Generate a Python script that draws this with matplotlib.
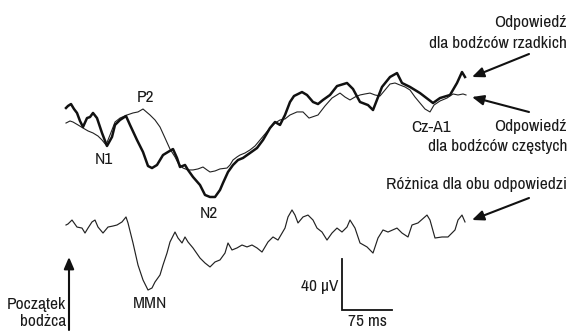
import matplotlib
matplotlib.use("Agg")
import matplotlib.pyplot as plt
import numpy as np

# ---- data: time (ms) and amplitude (µV) ----
t_rare = [-4.5, -1.5, 3, 7.5, 12, 16.5, 21, 27, 31.5, 36, 42, 49.5, 57, 64.5, 69, 76.5, 85.5, 91.5,
          102, 111, 118.5, 124.5, 132, 141, 148.5, 156, 162, 166.5, 174, 178.5, 186, 196.5, 204,
          211.5, 219, 226.5, 231, 238.5, 246, 253.5, 261, 271.5, 282, 291, 301.5, 309, 316.5, 324,
          331.5, 337.5, 349.5, 357, 366, 373.5, 381, 391.5, 402, 417, 426, 436.5, 448.5, 456,
          469.5, 481.5, 492, 499.5, 511.5, 526.5, 546, 556.5, 571.5, 582, 589.5, 594]
v_rare = [5.5, 7.1, 8.6, 4.7, 1.6, -4.7, -9.4, -2.4, -1.6, 1.6, -2.4, -14.1, -24.3, -17.2, -7.8,
          -3.9, -0.8, -7.8, -19.6, -29.0, -40.0, -41.6, -39.2, -31.4, -29.0, -26.7, -33.7, -40.8,
          -39.2, -43.1, -48.6, -54.9, -62.7, -64.3, -64.3, -58.8, -53.3, -44.7, -39.2, -35.3,
          -33.7, -29.8, -25.9, -19.6, -10.2, -5.5, -7.8, 0.0, 10.2, 14.9, 18.0, 15.7, 10.2, 8.6,
          11.8, 15.7, 22.7, 25.1, 20.4, 10.2, 7.8, 3.9, 22.0, 29.8, 32.9, 25.1, 22.0, 17.2, 9.4,
          13.3, 15.7, 25.1, 33.7, 29.8]

t_freq = [-4.5, 1.5, 6, 13.5, 21, 28.5, 36, 43.5, 49.5, 55.5, 61.5, 69, 76.5, 87, 96, 103.5, 111,
          121.5, 129, 136.5, 144, 151.5, 159, 163.5, 171, 178.5, 186, 193.5, 201, 207, 211.5, 219,
          226.5, 237, 241.5, 246, 252, 256.5, 264, 271.5, 279, 286.5, 294, 301.5, 309, 316.5, 324,
          331.5, 342, 351, 360, 373.5, 384, 394.5, 406.5, 414, 421.5, 429, 436.5, 444, 451.5, 459,
          466.5, 474, 481.5, 489, 496.5, 504, 511.5, 519, 526.5, 534, 541.5, 547.5, 556.5, 567,
          576, 583.5, 591, 595.5]
v_freq = [-6.3, -4.7, -5.5, -7.8, -10.2, -12.5, -14.1, -16.5, -19.6, -23.5, -15.7, -5.5, -2.4, 0.0,
          1.6, 2.4, 4.7, 0.0, -3.9, -9.4, -18.0, -26.7, -32.9, -37.6, -41.6, -43.1, -43.1, -42.3,
          -40.8, -43.1, -44.7, -43.9, -42.3, -41.6, -39.2, -35.3, -32.9, -31.4, -29.8, -27.4,
          -24.3, -19.6, -14.9, -10.2, -6.3, -3.9, -3.1, 0.0, 2.4, 2.4, -2.4, 0.0, 7.1, 13.3, 17.2,
          14.1, 11.8, 14.1, 15.7, 16.5, 17.2, 15.7, 14.9, 19.6, 24.3, 25.1, 23.5, 22.0, 19.6, 14.1,
          9.4, 4.7, 2.4, 7.8, 11.0, 13.3, 16.5, 15.7, 16.5, 15.7]

t_diff = [-4.5, -1.5, 4.5, 12, 19.5, 24, 28.5, 34.5, 39, 43.5, 51, 58.5, 66, 72, 79.5, 85.5, 88.5,
          96, 103.5, 111, 118.5, 124.5, 129, 136.5, 141, 147, 151.5, 159, 163.5, 169.5, 174, 178.5,
          186, 196.5, 204, 211.5, 219, 226.5, 234, 238.5, 244.5, 252, 259.5, 267, 274.5, 282,
          289.5, 298.5, 306, 313.5, 324, 328.5, 334.5, 339, 343.5, 351, 358.5, 366, 372, 379.5,
          387, 394.5, 402, 409.5, 417, 421.5, 429, 436.5, 447, 456, 463.5, 471, 478.5, 492, 499.5,
          508.5, 514.5, 523.5, 537, 541.5, 549, 559.5, 568.5, 579, 583.5, 589.5, 594]
v_diff = [0.0, 0.8, 3.9, -1.6, -2.4, -6.3, -2.4, 2.4, 3.9, -1.6, -6.3, -1.6, -0.8, 0.0, 2.4, 6.3,
          1.6, -14.1, -31.4, -43.1, -51.0, -49.4, -44.7, -39.2, -31.4, -22.0, -13.3, -5.5, -10.2,
          -14.1, -9.4, -13.3, -18.0, -25.9, -29.8, -32.9, -29.0, -27.4, -22.0, -14.1, -19.6, -18.0,
          -15.7, -17.2, -15.7, -18.0, -21.2, -13.3, -9.4, -11.8, -2.4, 6.3, 11.8, 7.8, 1.6, 6.3,
          7.8, 3.9, -2.4, -5.5, -11.8, -6.3, -2.4, -5.5, -1.6, 3.9, -2.4, -14.1, -17.2, -22.0,
          -10.2, -3.9, -5.5, -2.4, -6.3, -9.4, 0.0, 1.6, 7.8, 3.9, -10.2, -9.4, -9.4, -3.9, 3.9,
          7.8, 2.4]

scale_ms = 75
scale_uv = 40

# ---- layout ----
W, H = 573, 331
X0 = 69            # onset pixel
PX_PER_MS = 50 / 75
PX_PER_UV = 51 / 40
Y_DIFF_BASE = 225  # pixel row of difference baseline
Y_UP_BASE = 115    # pixel row of upper baseline
upper_offset = (Y_DIFF_BASE - Y_UP_BASE) / PX_PER_UV


def px(x, y):
    """pixel position -> data coords"""
    return (x - X0) / PX_PER_MS, (Y_DIFF_BASE - y) / PX_PER_UV


fig = plt.figure(figsize=(W / 100, H / 100), dpi=100)
ax = fig.add_axes([0, 0, 1, 1])
x_lo, y_lo = px(0, H)
x_hi, y_hi = px(W, 0)
ax.set_xlim(x_lo, x_hi)
ax.set_ylim(y_lo, y_hi)
ax.axis("off")

ax.plot(t_freq, np.array(v_freq) + upper_offset, color="#222222", lw=0.8)
ax.plot(t_rare, np.array(v_rare) + upper_offset, color="#111111", lw=1.8)
ax.plot(t_diff, v_diff, color="#222222", lw=0.85)

FONT = ["Archivo Narrow", "Barlow Semi Condensed", "Liberation Sans Narrow", "DejaVu Sans"]
FS = 12.5
txt = dict(family=FONT, fontsize=FS, color="#1a1a1a")

def label(x, y, s, ha="center", va="center"):
    ax.text(*px(x, y), s, ha=ha, va=va, **txt)

label(145, 97, "P2")
label(104, 160, "N1")
label(209, 213, "N2")
label(150, 303, "MMN")
label(431, 127, "Cz-A1")
label(567, 22, "Odpowiedź", ha="right")
label(567, 43, "dla bodźców rzadkich", ha="right")
label(567, 127, "Odpowiedź", ha="right")
label(567, 147, "dla bodźców częstych", ha="right")
label(567, 185, "Różnica dla obu odpowiedzi", ha="right")
label(66, 304, "Początek", ha="right")
label(66, 322, "bodżca", ha="right")
label(338, 287, "40 µV", ha="right")
label(367, 322, "75 ms")

arrow = dict(arrowstyle="-|>,head_length=0.7,head_width=0.3", color="#111111", lw=1.5,
             shrinkA=0, shrinkB=0)
for (x1, y1), (x2, y2) in [((529, 54), (472, 77)), ((529, 112), (472, 97)),
                           ((529, 198), (472, 220)), ((69, 330), (69, 257))]:
    ax.annotate("", xy=px(x2, y2), xytext=px(x1, y1), arrowprops=arrow)

# scale bar
sx, sy = px(342, 310)
ax.plot([sx, sx, sx + scale_ms], [sy + scale_uv, sy, sy], color="#111111", lw=1.3,
        solid_joinstyle="miter")

fig.savefig("out.png", dpi=100)
